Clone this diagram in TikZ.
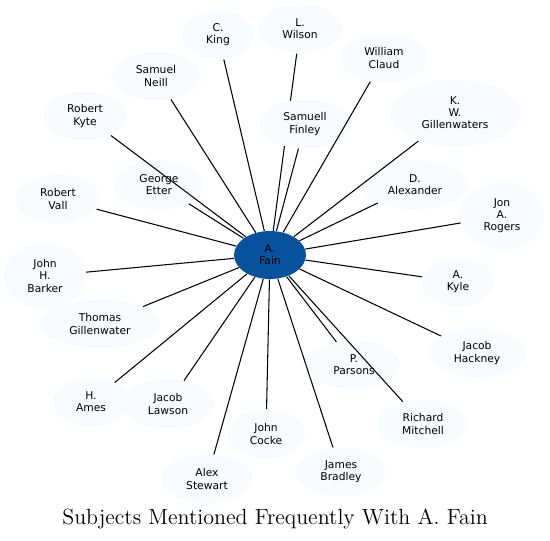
\documentclass[tikz,border=0pt]{standalone}
\usepackage{fontspec}
\newfontfamily\namefont{DejaVu Sans}
\usetikzlibrary{shapes}
\definecolor{paleblue}{HTML}{F7FBFF}
\definecolor{fainblue}{HTML}{08519C}

\begin{document}
\begin{tikzpicture}[x=0.02cm,y=-0.02cm,
    person/.style={ellipse,fill=paleblue,inner sep=0pt,align=center,
      minimum width=1.8cm,minimum height=0.98cm,
      font=\namefont\fontsize{6.1}{6.9}\selectfont},
    link/.style={line width=0.6pt}]
  \useasboundingbox (0,0) rectangle (550,540);
  \node[person,fill=fainblue,minimum width=1.44cm,minimum height=0.96cm] (fain) at (270,255) {A.\\Fain};
  \node[person,minimum width=1.44cm] (king) at (218,35) {C.\\King};
  \node[person,minimum width=1.68cm] (wilson) at (300,29) {L.\\Wilson};
  \node[person,minimum width=1.76cm] (claud) at (384,58) {William\\Claud};
  \node[person,minimum width=2.6cm,minimum height=1.34cm] (kwgill) at (455,113) {K.\\W.\\Gillenwaters};
  \node[person,minimum width=2.14cm] (alexander) at (415,185) {D.\\Alexander};
  \node[person,minimum width=1.68cm,minimum height=1.34cm] (rogers) at (502,216) {Jon\\A.\\Rogers};
  \node[person,minimum width=1.46cm] (akyle) at (458,282) {A.\\Kyle};
  \node[person,minimum width=1.96cm] (hackney) at (477,353) {Jacob\\Hackney};
  \node[person,minimum width=1.86cm] (parsons) at (354,365) {P.\\Parsons};
  \node[person,minimum width=1.82cm] (mitchell) at (423,424) {Richard\\Mitchell};
  \node[person] (bradley) at (341,472) {James\\Bradley};
  \node[person,minimum width=1.56cm] (cocke) at (266,434) {John\\Cocke};
  \node[person,minimum width=1.82cm] (stewart) at (207,479) {Alex\\Stewart};
  \node[person,minimum width=1.82cm] (lawson) at (168,404) {Jacob\\Lawson};
  \node[person,minimum width=1.5cm] (ames) at (91,402) {H.\\Ames};
  \node[person,minimum width=2.4cm] (tgill) at (100,324) {Thomas\\Gillenwater};
  \node[person,minimum width=1.64cm,minimum height=1.34cm] (barker) at (45,276) {John\\H.\\Barker};
  \node[person,minimum width=1.68cm] (vall) at (58,199) {Robert\\Vall};
  \node[person,minimum width=1.68cm] (rkyte) at (85,116) {Robert\\Kyte};
  \node[person] (neill) at (156,76) {Samuel\\Neill};
  \node[person] (etter) at (159,185) {George\\Etter};
  \path[link] (fain) edge (king) (fain) edge (wilson)
    (fain) edge (kwgill) (fain) edge (alexander) (fain) edge (rogers)
    (fain) edge (akyle) (fain) edge (hackney) (fain) edge (parsons)
    (fain) edge (mitchell) (fain) edge (bradley) (fain) edge (cocke)
    (fain) edge (stewart) (fain) edge (lawson) (fain) edge (ames)
    (fain) edge (tgill) (fain) edge (barker) (fain) edge (vall)
    (fain) edge (rkyte) (fain) edge (neill) (fain) edge (etter);
  \node[person,minimum width=1.84cm] (finley) at (305,124) {Samuell\\Finley};
  \path[link] (fain) edge (finley) (fain) edge (claud);
  \node[font=\fontsize{12.5}{15}\selectfont] (title) at (275,519) {Subjects Mentioned Frequently With A. Fain};
\end{tikzpicture}
\end{document}
